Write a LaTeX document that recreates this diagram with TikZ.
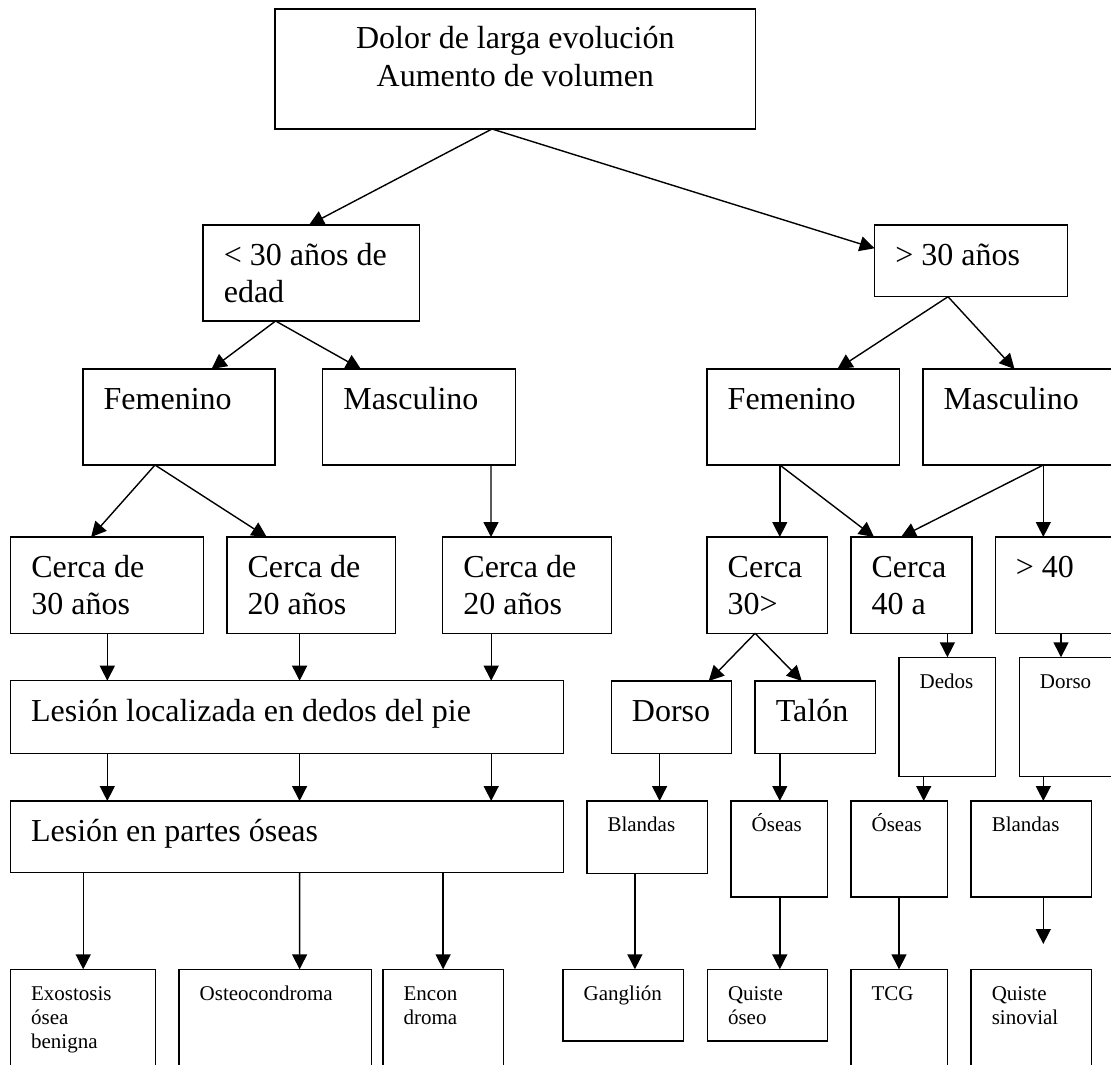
\documentclass[tikz,border=0pt]{standalone}
\usepackage{fontspec}
\setmainfont{Liberation Serif}
\usetikzlibrary{arrows.meta, calc}

\newdimen\unidad \unidad=0.5pt
\newcommand{\letraraiz}{\fontsize{16}{19.2}\selectfont}
\newcommand{\letragrande}{\fontsize{16}{18.35}\selectfont\def\alto{20.25pt}}
\newcommand{\letrachica}{\fontsize{10.5}{12.2}\selectfont\def\alto{15.35pt}}
% ancho, alto (en px), texto arriba a la izquierda
\newcommand{\celda}[3]{\parbox[c][#2\unidad][t]{#1\unidad}{\raggedright\leftskip=10.35pt\parskip=0pt\rule{0pt}{\alto}#3}}

\begin{document}
\begin{tikzpicture} [x=0.5pt, y=-0.5pt,
        caja/.style={draw, line width=0.7pt, inner sep=0pt, outer sep=0pt,
            anchor=north west, font=\letragrande},
        chica/.style={caja, font=\letrachica},
        flecha/.style={-{Triangle[length=7.5pt, width=7.5pt]}, line width=0.7pt}]
    \useasboundingbox (0,0) rectangle (1111,1064);
    \clip (0,0) rectangle (1111,1064);

        \node[caja, font=\letraraiz] (raiz) at (275,9) {\parbox[c][120\unidad][t]{480.7\unidad}{\centering\rule{0pt}{19.65pt}Dolor de larga evolución\\Aumento de volumen}};
        \node[caja] (menor) at (203.1,225) {\celda{216.4}{96}{< 30 años de\\edad}};
        \node[caja] (mayor) at (874.6,225) {\celda{193}{71.7}{> 30 años}};

        % rama izquierda
        \node[caja] (femA) at (83,369) {\celda{192.1}{96}{Femenino}};
        \node[caja] (mascA) at (322.6,369) {\celda{192.8}{96}{Masculino}};
        \node[caja] (cerca30) at (10.7,537) {\celda{192.5}{96.3}{Cerca de\\30 años}};
        \node[caja] (cerca20a) at (226.9,537) {\celda{168.4}{96.3}{Cerca de\\20 años}};
        \node[caja] (cerca20b) at (442.7,537) {\celda{169}{96.3}{Cerca de\\20 años}};
        \node[caja] (dedospie) at (10.4,680.7) {\celda{553.3}{72.6}{Lesión localizada en dedos del pie}};
        \node[caja] (partes) at (10.4,801) {\celda{553.3}{71.7}{Lesión en partes óseas}};
        \node[chica] (exostosis) at (10.4,969.3) {\celda{145}{110}{Exostosis\\ósea\\benigna}};
        \node[chica] (osteo) at (179,969.3) {\celda{192.4}{110}{Osteocondroma}};
        \node[chica] (encon) at (382.9,969.3) {\celda{120.5}{110}{Encon\\droma}};

        % rama derecha
        \node[caja] (femB) at (707,369) {\celda{192.3}{96}{Femenino}};
        \node[caja] (mascB) at (923,369) {\celda{200}{96}{Masculino}};
        \node[caja] (cerca30m) at (707,537) {\celda{120.2}{96.3}{Cerca\\30>}};
        \node[caja] (cerca40) at (850.9,537) {\celda{120.9}{96.3}{Cerca\\40 a}};
        \node[caja] (mas40) at (995.2,537) {\celda{130}{96.3}{> 40}};
        \node[caja] (dorso) at (611.2,681) {\celda{120.2}{72.3}{Dorso}};
        \node[caja] (talon) at (755.1,681) {\celda{120.2}{72.3}{Talón}};
        \node[chica] (dedos) at (899,657.3) {\celda{96.5}{119.4}{Dedos}};
        \node[chica] (dorsoB) at (1019.2,657.3) {\celda{110}{119.4}{Dorso}};
        \node[chica] (blandasA) at (586.8,801) {\celda{120.9}{72.3}{Blandas}};
        \node[chica] (oseasA) at (731,801) {\celda{96.5}{96}{Óseas}};
        \node[chica] (oseasB) at (850.9,801) {\celda{96.5}{96}{Óseas}};
        \node[chica] (blandasB) at (971.1,801) {\celda{120.6}{96}{Blandas}};
        \node[chica] (ganglion) at (563,969.3) {\celda{120.3}{71.7}{Ganglión}};
        \node[chica] (quisteos) at (707.3,969.3) {\celda{120.2}{71.7}{Quiste\\óseo}};
        \node[chica] (tcg) at (850.9,969.3) {\celda{96.5}{110}{TCG}};
        \node[chica] (sinovial) at (971.1,969.3) {\celda{120.6}{110}{Quiste\\sinovial}};
        \coordinate (sinfin) at ($(blandasB.south west)+(72.2,47)$); % <- flecha sin destino

        \draw[flecha] ($(raiz.south west)+(217,0)$) -- ($(menor.north west)+(105.9,0)$);
        \draw[flecha] ($(raiz.south west)+(217,0)$) -- ($(mayor.north west)+(0,23.3)$);
        \draw[flecha] ($(menor.south west)+(72.5,0)$) -- ($(femA.north west)+(128.6,0)$);
        \draw[flecha] ($(menor.south west)+(72.5,0)$) -- ($(mascA.north west)+(38.3,0)$);
        \draw[flecha] ($(femA.south west)+(72,0)$) -- ($(cerca30.north west)+(80.4,0)$);
        \draw[flecha] ($(femA.south west)+(72,0)$) -- ($(cerca20a.north west)+(39.8,0)$);
        \draw[flecha] ($(mascA.south west)+(168.4,0)$) -- ($(cerca20b.north west)+(48.3,0)$);
        \draw[flecha] ($(cerca30.south west)+(96.6,0)$) -- ($(dedospie.north west)+(96.9,0)$);
        \draw[flecha] ($(cerca20a.south west)+(72.7,0)$) -- ($(dedospie.north west)+(289.2,0)$);
        \draw[flecha] ($(cerca20b.south west)+(48.5,0)$) -- ($(dedospie.north west)+(480.8,0)$);
        \draw[flecha] ($(dedospie.south west)+(96.9,0)$) -- ($(partes.north west)+(96.9,0)$);
        \draw[flecha] ($(dedospie.south west)+(289.2,0)$) -- ($(partes.north west)+(289.2,0)$);
        \draw[flecha] ($(dedospie.south west)+(480.8,0)$) -- ($(partes.north west)+(480.8,0)$);
        \draw[flecha] ($(partes.south west)+(72.8,0)$) -- ($(exostosis.north west)+(72.8,0)$);
        \draw[flecha] ($(partes.south west)+(289.2,0)$) -- ($(osteo.north west)+(120.6,0)$);
        \draw[flecha] ($(partes.south west)+(432.7,0)$) -- ($(encon.north west)+(60.2,0)$);

        \draw[flecha] ($(mayor.south west)+(73.4,0)$) -- ($(femB.north west)+(130.4,0)$);
        \draw[flecha] ($(mayor.south west)+(73.4,0)$) -- ($(mascB.north west)+(91.5,0)$);
        \draw[flecha] ($(femB.south west)+(72.8,0)$) -- ($(cerca30m.north west)+(72.8,0)$);
        \draw[flecha] ($(femB.south west)+(72.8,0)$) -- ($(cerca40.north west)+(23.1,0)$);
        \draw[flecha] ($(mascB.south west)+(120.3,0)$) -- ($(cerca40.north west)+(50.1,0)$);
        \draw[flecha] ($(mascB.south west)+(120.3,0)$) -- ($(mas40.north west)+(48.1,0)$);
        \draw[flecha] ($(cerca30m.south west)+(48.1,0)$) -- ($(dorso.north west)+(97.5,0)$);
        \draw[flecha] ($(cerca30m.south west)+(48.1,0)$) -- ($(talon.north west)+(46.7,0)$);
        \draw[flecha] ($(cerca40.south west)+(96.5,0)$) -- ($(dedos.north west)+(48.4,0)$);
        \draw[flecha] ($(mas40.south west)+(65.8,0)$) -- ($(dorsoB.north west)+(41.8,0)$);
        \draw[flecha] ($(dorso.south west)+(48.4,0)$) -- ($(blandasA.north west)+(72.8,0)$);
        \draw[flecha] ($(talon.south west)+(24.7,0)$) -- ($(oseasA.north west)+(48.8,0)$);
        \draw[flecha] ($(dedos.south west)+(24.7,0)$) -- ($(oseasB.north west)+(72.8,0)$);
        \draw[flecha] ($(dorsoB.south west)+(24.1,0)$) -- ($(blandasB.north west)+(72.2,0)$);
        \draw[flecha] ($(blandasA.south west)+(48.1,0)$) -- ($(ganglion.north west)+(71.9,0)$);
        \draw[flecha] ($(oseasA.south west)+(48.8,0)$) -- ($(quisteos.north west)+(72.5,0)$);
        \draw[flecha] ($(oseasB.south west)+(48.1,0)$) -- ($(tcg.north west)+(48.1,0)$);
        \draw[flecha] ($(blandasB.south west)+(72.2,0)$) -- (sinfin);
\end{tikzpicture}
\end{document}
